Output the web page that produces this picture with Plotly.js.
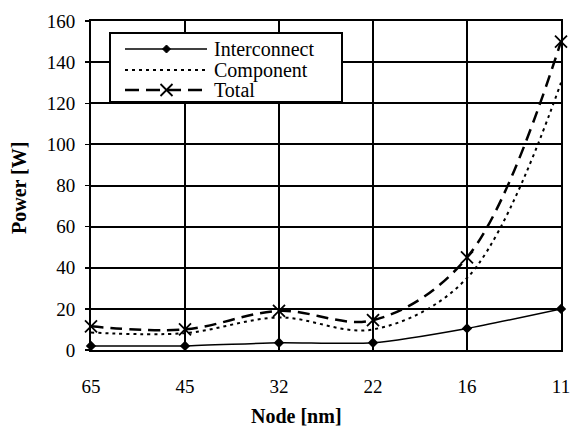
<!DOCTYPE html>
<html>
<head>
<meta charset="utf-8">
<script src="https://cdn.plot.ly/plotly-3.0.1.min.js"></script>
<style>
html,body{margin:0;padding:0;background:#fff;}
#chart{width:571px;height:429px;}
</style>
</head>
<body>
<div id="chart"></div>
<script>
// ---- data ----
var nodes = ['65', '45', '32', '22', '16', '11'];
var interconnect = [2, 2, 3.5, 3.5, 10.5, 20];
var component = [8.5, 8.2, 15.8, 10, 35, 130];
var total = [11.5, 10, 19, 14.5, 45, 150];
var seriesNames = ['Interconnect', 'Component', 'Total'];
var yTicks = [0, 20, 40, 60, 80, 100, 120, 140, 160];

// ---- layout geometry ----
var W = 571, H = 429;
var L = 91, R = 10, T = 21, B = 79;
var pw = W - L - R, ph = H - T - B;
function px(x) { return (x - L) / pw; }
function py(y) { return (H - B - y) / ph; }

var serif = 'Liberation Serif, Times New Roman, serif';
var idx = nodes.map(function (_, i) { return i; });

var traces = [
  {
    x: idx, y: interconnect, name: seriesNames[0], type: 'scatter', mode: 'lines+markers',
    line: {color: '#000', width: 1.5, shape: 'spline', smoothing: 0.6},
    marker: {symbol: 'diamond', size: 8, color: '#000'},
    cliponaxis: false, showlegend: false
  },
  {
    x: idx, y: component, name: seriesNames[1], type: 'scatter', mode: 'lines',
    line: {color: '#000', width: 2, dash: '3px,4px', shape: 'spline', smoothing: 1},
    cliponaxis: false, showlegend: false
  },
  {
    x: idx, y: total, name: seriesNames[2], type: 'scatter', mode: 'lines+markers',
    line: {color: '#000', width: 2.5, dash: '12px,7px', shape: 'spline', smoothing: 1},
    marker: {symbol: 'x-thin', size: 12, color: '#000', line: {color: '#000', width: 1.8}},
    cliponaxis: false, showlegend: false
  }
];

// ---- manual legend ----
var lx0 = 110, lx1 = 342, ly0 = 33, ly1 = 102;
var rows = [49, 70, 90];
var sx0 = 125, sx1 = 207, smid = 166.5, tx = 212;
var shapes = [
  {type: 'rect', xref: 'paper', yref: 'paper', x0: px(lx0), x1: px(lx1), y0: py(ly1), y1: py(ly0),
   fillcolor: '#fff', line: {color: '#000', width: 2}, layer: 'above'},
  {type: 'line', xref: 'paper', yref: 'paper', x0: px(sx0), x1: px(sx1), y0: py(rows[0]), y1: py(rows[0]),
   line: {color: '#000', width: 1.5}, layer: 'above'},
  {type: 'line', xref: 'paper', yref: 'paper', x0: px(sx0), x1: px(sx1), y0: py(rows[1]), y1: py(rows[1]),
   line: {color: '#000', width: 2, dash: '3px,4px'}, layer: 'above'},
  {type: 'line', xref: 'paper', yref: 'paper', x0: px(sx0), x1: px(sx1), y0: py(rows[2]), y1: py(rows[2]),
   line: {color: '#000', width: 2.5, dash: '14px,7px'}, layer: 'above'},
  {type: 'path', xref: 'paper', yref: 'paper', layer: 'above',
   path: 'M ' + px(smid - 4) + ' ' + py(rows[0]) + ' L ' + px(smid) + ' ' + py(rows[0] - 4) +
         ' L ' + px(smid + 4) + ' ' + py(rows[0]) + ' L ' + px(smid) + ' ' + py(rows[0] + 4) + ' Z',
   fillcolor: '#000', line: {color: '#000', width: 1}},
  {type: 'line', xref: 'paper', yref: 'paper', layer: 'above',
   x0: px(smid - 6), x1: px(smid + 6), y0: py(rows[2] - 6), y1: py(rows[2] + 6), line: {color: '#000', width: 1.8}},
  {type: 'line', xref: 'paper', yref: 'paper', layer: 'above',
   x0: px(smid - 6), x1: px(smid + 6), y0: py(rows[2] + 6), y1: py(rows[2] - 6), line: {color: '#000', width: 1.8}}
];

var annotations = [];
seriesNames.forEach(function (n, i) {
  annotations.push({xref: 'paper', yref: 'paper', x: px(tx), y: py(rows[i]), xanchor: 'left', yanchor: 'middle',
    text: n, showarrow: false, font: {family: serif, size: 20, color: '#000'}});
});
annotations.push({xref: 'paper', yref: 'paper', x: px(296), y: py(416), xanchor: 'center', yanchor: 'middle',
  text: '<b>Node [nm]</b>', showarrow: false, font: {family: serif, size: 20, color: '#000'}});
annotations.push({xref: 'paper', yref: 'paper', x: px(19), y: py(188), xanchor: 'center', yanchor: 'middle',
  text: '<b>Power [W]</b>', textangle: -90, showarrow: false, font: {family: serif, size: 20, color: '#000'}});

var layout = {
  width: W, height: H,
  margin: {l: L, r: R, t: T, b: B, pad: 0},
  paper_bgcolor: '#fff', plot_bgcolor: '#fff',
  showlegend: false,
  font: {family: serif, size: 19, color: '#000'},
  xaxis: {
    range: [0, 5], tickmode: 'array', tickvals: idx, ticktext: nodes,
    showgrid: true, gridcolor: '#000', gridwidth: 2,
    showline: true, linecolor: '#000', linewidth: 2, mirror: true,
    ticks: '', zeroline: false, ticklabelstandoff: 18, ticklabeloverflow: 'allow',
    tickfont: {family: serif, size: 19, color: '#000'}, fixedrange: true
  },
  yaxis: {
    range: [0, 160], tickmode: 'array', tickvals: yTicks,
    showgrid: true, gridcolor: '#000', gridwidth: 2,
    showline: true, linecolor: '#000', linewidth: 2, mirror: true,
    ticks: 'outside', ticklen: 4, tickwidth: 1.5, tickcolor: '#000',
    zeroline: false, ticklabelstandoff: 6,
    tickfont: {family: serif, size: 19, color: '#000'}, fixedrange: true
  },
  shapes: shapes,
  annotations: annotations
};

Plotly.newPlot('chart', traces, layout, {staticPlot: true, displayModeBar: false});
</script>
</body>
</html>
